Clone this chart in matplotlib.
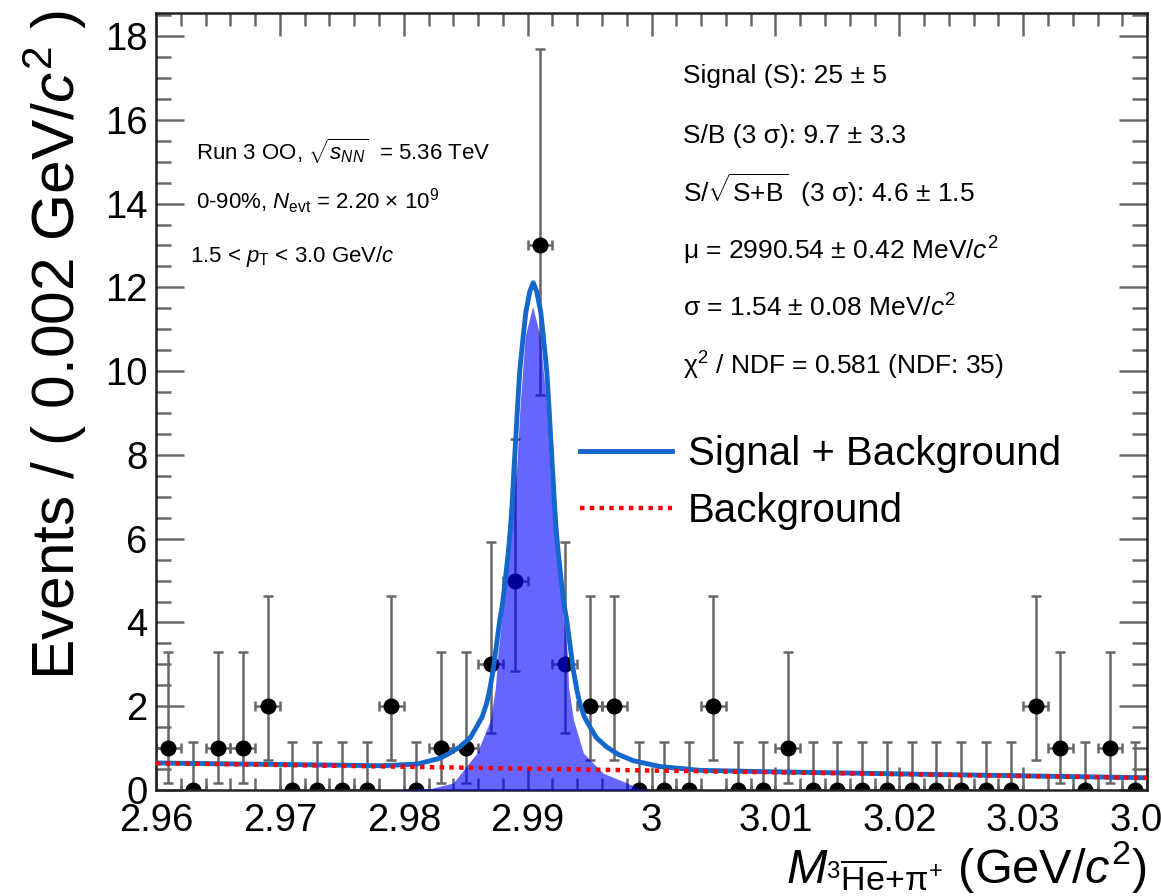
import matplotlib
matplotlib.use("Agg")
import matplotlib.pyplot as plt
from matplotlib.ticker import MultipleLocator

plt.rcParams['font.family'] = ['Liberation Sans', 'DejaVu Sans']
plt.rcParams['mathtext.fontset'] = 'custom'
plt.rcParams['mathtext.rm'] = 'Liberation Sans'
plt.rcParams['mathtext.it'] = 'Liberation Sans:italic'
plt.rcParams['mathtext.bf'] = 'Liberation Sans:bold'
plt.rcParams['mathtext.sf'] = 'Liberation Sans'

# invariant mass histogram, 2 MeV/c^2 bins
bin_centres = [2.961, 2.963, 2.965, 2.967, 2.969, 2.971, 2.973, 2.975, 2.977, 2.979,
               2.981, 2.983, 2.985, 2.987, 2.989, 2.991, 2.993, 2.995, 2.997, 2.999,
               3.001, 3.003, 3.005, 3.007, 3.009, 3.011, 3.013, 3.015, 3.017, 3.019,
               3.021, 3.023, 3.025, 3.027, 3.029, 3.031, 3.033, 3.035, 3.037, 3.039]
counts = [1, 0, 1, 1, 2, 0, 0, 0, 0, 2,
          0, 1, 1, 3, 5, 13, 3, 2, 2, 0,
          0, 0, 2, 0, 0, 1, 0, 0, 0, 0,
          0, 0, 0, 0, 0, 2, 1, 0, 1, 0]
half_bin = 0.001

# asymmetric poisson errors (as drawn by RooFit)
poisson_lo = {0: 0.0, 1: 0.827, 2: 1.292, 3: 1.633, 5: 2.160, 13: 3.559}
poisson_hi = {0: 1.148, 1: 2.300, 2: 2.638, 3: 2.918, 5: 3.382, 13: 4.690}

# fitted curves
sb_x = [2.9600, 2.9716, 2.9783, 2.9811, 2.98294, 2.98359, 2.98453, 2.98537,
        2.98588, 2.98633, 2.98669, 2.98694, 2.98722, 2.98750, 2.98775, 2.98795,
        2.98819, 2.98843, 2.98862, 2.98876, 2.98889, 2.98904, 2.98920, 2.98936,
        2.98964, 2.98985, 2.99017, 2.99045, 2.99073, 2.99106, 2.99126, 2.99154,
        2.99170, 2.99186, 2.99201, 2.99215, 2.99228, 2.99247, 2.99271, 2.99295,
        2.99315, 2.99340, 2.99368, 2.99396, 2.99421, 2.99457, 2.99502, 2.99554,
        2.99637, 2.99731, 2.99852, 3.0007, 3.0039, 3.0088, 3.0200, 3.0400]
sb_y = [0.645, 0.605, 0.580, 0.620, 0.760, 0.860, 1.030, 1.250,
        1.510, 1.750, 2.070, 2.400, 2.870, 3.500, 4.060, 4.400,
        5.000, 5.660, 6.290, 6.900, 7.640, 8.400, 9.240, 10.00,
        10.84, 11.40, 11.90, 12.11, 11.90, 11.40, 10.84, 10.00,
        9.240, 8.400, 7.640, 6.900, 6.290, 5.660, 5.000, 4.400,
        4.060, 3.500, 2.870, 2.400, 2.070, 1.750, 1.510, 1.250,
        1.030, 0.850, 0.700, 0.560, 0.470, 0.440, 0.385, 0.292]

bkg_x = [2.96, 2.98, 3.00, 3.02, 3.04]
bkg_y = [0.640, 0.555, 0.465, 0.378, 0.290]

sig_x = [2.9790, 2.9821, 2.9840, 2.9859, 2.9870, 2.9874, 2.9876, 2.9879, 2.9882,
         2.9884, 2.9886, 2.9891, 2.9894, 2.9898, 2.9904, 2.9910, 2.9915, 2.9918,
         2.9922, 2.9924, 2.9926, 2.9929, 2.9932, 2.9933, 2.9937, 2.9945, 2.9961,
         2.9980, 2.9990, 3.0000]
sig_y = [0.0, 0.03, 0.17, 0.88, 1.67, 2.46, 3.27, 4.06, 4.85,
         5.66, 6.45, 7.65, 9.24, 10.84, 11.55, 10.84, 9.24, 7.65,
         6.40, 5.66, 4.85, 4.06, 3.27, 2.46, 1.67, 0.88, 0.40,
         0.17, 0.03, 0.0]

xtick_vals = [2.96, 2.97, 2.98, 2.99, 3.00, 3.01, 3.02, 3.03, 3.04]
xtick_labels = ['2.96', '2.97', '2.98', '2.99', '3', '3.01', '3.02', '3.03', '3.04']

left_lines = [r'Run 3 OO, $\sqrt{s_{NN}}$  = 5.36 TeV',
              r'0-90%, $N_{\rm evt}$ = 2.20 $\times$ 10$^{9}$',
              r'1.5 < $p_{\rm T}$ < 3.0 GeV/$c$']
right_lines = ['Signal (S): 25 ± 5',
               'S/B (3 σ): 9.7 ± 3.3',
               r'S/$\sqrt{\mathrm{S}{+}\mathrm{B}}$  (3 σ): 4.6 ± 1.5',
               r'μ = 2990.54 ± 0.42 MeV/$c^{2}$',
               r'σ = 1.54 ± 0.08 MeV/$c^{2}$',
               r'χ$^{2}$ / NDF = 0.581 (NDF: 35)']

fig = plt.figure(figsize=(11.61, 8.96), dpi=100)
ax = fig.add_axes([0.1344, 0.1183, 0.8536, 0.8672])

err_lo = [poisson_lo[n] for n in counts]
err_hi = [poisson_hi[n] for n in counts]
ax.errorbar(bin_centres, counts, yerr=[err_lo, err_hi], xerr=half_bin,
            fmt='o', ms=10.5, mfc='black', mec='black', ecolor='#666666',
            elinewidth=1.8, capsize=3.6, capthick=1.8, zorder=2)

ax.fill_between(sig_x, 0, sig_y, color='#0000ff', alpha=0.6, lw=0, zorder=3)
ax.plot(sb_x, sb_y, color='#1467cc', lw=3.5, zorder=4,
        solid_joinstyle='round', label='Signal + Background')
ax.plot(bkg_x, bkg_y, color='#ff0000', lw=3.2, ls=(0, (1, 1.2)), zorder=5,
        label='Background')

ax.set_xlim(2.96, 3.04)
ax.set_ylim(0, 18.55)
ax.set_xticks(xtick_vals)
ax.set_xticklabels(xtick_labels)
ax.set_yticks(range(0, 19, 2))
ax.xaxis.set_minor_locator(MultipleLocator(0.002))
ax.yaxis.set_minor_locator(MultipleLocator(0.5))
ax.tick_params(which='both', direction='in', top=True, right=True,
               color='#6a6a6a', width=1.8, labelsize=27.5)
ax.tick_params(axis='x', which='major', length=16.8, pad=9)
ax.tick_params(axis='x', which='minor', length=9)
ax.tick_params(axis='y', which='major', length=20, pad=6)
ax.tick_params(axis='y', which='minor', length=10.8)
for sp in ax.spines.values():
    sp.set_linewidth(1.8)
    sp.set_color('#222222')

fig.text(55 / 1161, 1 - 10 / 896, r'Events / ( 0.002 GeV/$c^{2}$ )',
         rotation=90, ha='center', va='top', fontsize=43.5)
fig.text(1147 / 1161, 1 - 883 / 896,
         r'$M_{{}^{3}\overline{\mathrm{He}}{+}\mathrm{π}^{+}}$ (GeV/$c^{2}$)',
         ha='right', va='baseline', fontsize=35)

left_pos = [(0.0404, 0.8099), (0.0404, 0.7477), (0.0343, 0.6799)]
for (tx, ty), s in zip(left_pos, left_lines):
    ax.text(tx, ty, s, transform=ax.transAxes, fontsize=16, va='baseline')

right_y = [0.9095, 0.8331, 0.7571, 0.6821, 0.6091, 0.5341]
for ty, s in zip(right_y, right_lines):
    ax.text(0.5318, ty, s, transform=ax.transAxes, fontsize=19, va='baseline')

ax.legend(loc='upper left', bbox_to_anchor=(0.4279, 0.4564), frameon=False,
          fontsize=29, handlelength=2.28, handletextpad=0.4, borderpad=0,
          borderaxespad=0, labelspacing=0.46)

fig.savefig('out.png', dpi=100)
